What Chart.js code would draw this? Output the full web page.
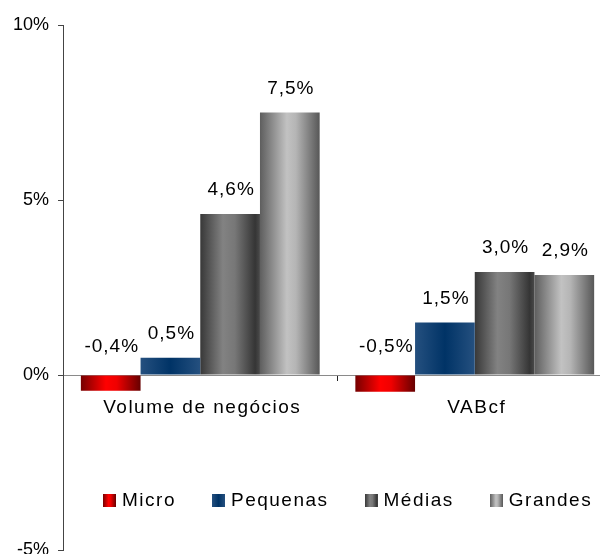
<!DOCTYPE html>
<html>
<head>
<meta charset="utf-8">
<script src="https://cdn.jsdelivr.net/npm/chart.js@4.4.1/dist/chart.umd.min.js"></script>
<style>
    html, body { margin: 0; padding: 0; background: #fff; overflow: hidden; }
    #wrap { position: relative; width: 614px; height: 570px; }
    #legend {
        position: absolute; left: 103px; top: 490px;
        display: flex; align-items: center; gap: 36px;
        font: 19px "Liberation Sans", Arial, sans-serif; letter-spacing: 1.5px;
        line-height: 20px; color: #000; white-space: nowrap;
    }
    #legend .item { display: flex; align-items: center; }
    #legend .sw { display: inline-block; width: 13px; height: 13px; margin-right: 6px; }
</style>
</head>
<body>
<div id="wrap">
    <canvas id="chart"></canvas>
    <div id="legend"></div>
</div>
<script>
// Values (bar heights), plus the labels printed above them.
const categories = ['Volume de negócios', 'VABcf'];
const seriesNames = ['Micro', 'Pequenas', 'Médias', 'Grandes'];
const micro = [-0.45, -0.48];
const pequenas = [0.49, 1.5];
const medias = [4.6, 2.94];
const grandes = [7.5, 2.86];
const microLabels = ['-0,4%', '-0,5%'];
const pequenasLabels = ['0,5%', '1,5%'];
const mediasLabels = ['4,6%', '3,0%'];
const grandesLabels = ['7,5%', '2,9%'];
const yTicks = [-5, 0, 5, 10];

// Cylinder-like horizontal shading for each series (offset, colour).
const shades = [
    [[0, '#760000'], [0.42, '#ff0000'], [0.6, '#f00000'], [1, '#660000']],
    [[0, '#25507f'], [0.5, '#003366'], [1, '#25507f']],
    [[0, '#383838'], [0.38, '#828282'], [0.58, '#777777'], [0.92, '#353535'], [1, '#4a4a4a']],
    [[0, '#5e5e5e'], [0.45, '#c2c2c2'], [0.6, '#b5b5b5'], [1, '#575757']],
];

const FONT = '"Liberation Sans", Arial, sans-serif';

function cssGradient(stops) {
    return 'linear-gradient(to right, ' + stops.map(s => `${s[1]} ${s[0] * 100}%`).join(', ') + ')';
}

// HTML legend sitting inside the plot area, below the zero line.
const legendEl = document.getElementById('legend');
seriesNames.forEach((name, i) => {
    const item = document.createElement('span');
    item.className = 'item';
    const sw = document.createElement('i');
    sw.className = 'sw';
    sw.style.background = cssGradient(shades[i]);
    item.appendChild(sw);
    item.appendChild(document.createTextNode(name));
    legendEl.appendChild(item);
});

// Swap each bar's flat fill for a gradient spanning that bar's own width.
const barShading = {
    id: 'barShading',
    beforeDatasetsDraw(chart) {
        const ctx = chart.ctx;
        chart.data.datasets.forEach((ds, d) => {
            chart.getDatasetMeta(d).data.forEach(el => {
                const x0 = el.x - el.width / 2;
                const g = ctx.createLinearGradient(x0, 0, x0 + el.width, 0);
                shades[d].forEach(s => g.addColorStop(s[0], s[1]));
                el.options = Object.assign({}, el.options, { backgroundColor: g });
            });
        });
    },
};

// Value labels over the bars, and category names under the zero line.
const textLayer = {
    id: 'textLayer',
    afterDatasetsDraw(chart) {
        const ctx = chart.ctx;
        const y0 = chart.scales.y.getPixelForValue(0);
        ctx.save();
        ctx.fillStyle = '#000';
        ctx.textAlign = 'center';
        ctx.textBaseline = 'alphabetic';
        ctx.font = '19px ' + FONT;
        ctx.letterSpacing = '1px';
        chart.data.datasets.forEach((ds, d) => {
            chart.getDatasetMeta(d).data.forEach((el, i) => {
                const y = ds.data[i] >= 0 ? el.y - 19 : y0 - 23;
                ctx.fillText(ds.valueLabels[i], el.x + 1, y);
            });
        });
        ctx.letterSpacing = '1.5px';
        categories.forEach((c, i) => {
            ctx.fillText(c, chart.scales.x.getPixelForValue(i) + 2, y0 + 38);
        });
        ctx.restore();
    },
};

const seriesValues = [micro, pequenas, medias, grandes];
const seriesLabels = [microLabels, pequenasLabels, mediasLabels, grandesLabels];

new Chart(document.getElementById('chart'), {
    type: 'bar',
    data: {
        labels: categories,
        datasets: seriesNames.map((name, i) => ({
            label: name,
            data: seriesValues[i],
            valueLabels: seriesLabels[i],
            backgroundColor: shades[i][1][1],
            borderWidth: 0,
            barPercentage: 1,
            categoryPercentage: 0.87,
        })),
    },
    plugins: [barShading, textLayer],
    options: {
        responsive: true,
        maintainAspectRatio: false,
        animation: false,
        events: [],
        layout: { padding: { left: 4, top: 25, right: 2, bottom: 20 } },
        plugins: {
            legend: { display: false },
            tooltip: { enabled: false },
        },
        scales: {
            x: {
                position: { y: 0 },
                offset: true,
                border: { display: true, color: '#8a8a8a', width: 1 },
                grid: { offset: true, drawOnChartArea: false, drawTicks: true, tickLength: 5, color: '#222' },
                ticks: { display: false },
            },
            y: {
                min: -5,
                max: 10,
                afterBuildTicks: axis => { axis.ticks = yTicks.map(v => ({ value: v })); },
                border: { display: true, color: '#444', width: 1 },
                grid: { drawOnChartArea: false, drawTicks: true, tickLength: 5, color: '#444' },
                ticks: {
                    padding: 9,
                    color: '#000',
                    font: { family: FONT, size: 18 },
                    callback: v => v + '%',
                },
            },
        },
    },
});
</script>
</body>
</html>
